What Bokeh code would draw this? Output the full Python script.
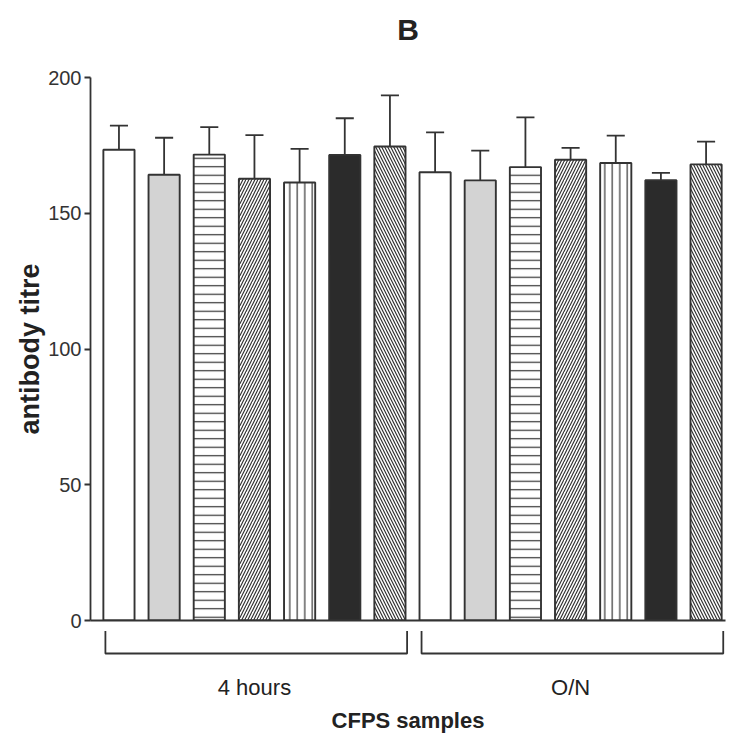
import numpy as np
from bokeh.plotting import figure
from bokeh.models import ColumnDataSource, Range1d, FixedTicker, LinearAxis
from bokeh.layouts import column
from bokeh.embed import file_html
from bokeh.resources import INLINE

# ---- data ----
groups = ["4 hours", "O/N"]
titre_4h = [173.4, 164.2, 171.6, 162.7, 161.3, 171.5, 174.6]
sem_4h = [8.9, 13.6, 10.1, 16.1, 12.4, 13.5, 18.8]
titre_on = [165.1, 162.1, 167.0, 169.7, 168.5, 162.2, 168.0]
sem_on = [14.7, 11.0, 18.3, 4.4, 10.1, 2.7, 8.4]
y_ticks = [0, 50, 100, 150, 200]
panel_title = "B"

# ---- styles per sample (same sequence in both groups) ----
fills = ["white", "#d3d3d3", "white", "white", "white", "#2b2b2b", "white"]
hatches = [" ", " ", "horizontal_line", "right_diagonal_line", "vertical_line", " ", "left_diagonal_line"]
hatch_scales = [12, 12, 8.5, 6, 7.5, 12, 6]

INK = "#333333"
SANS = "Liberation Sans"

n_per = len(titre_4h)
values = titre_4h + titre_on
sems = sem_4h + sem_on
x = np.arange(1, len(values) + 1, dtype=float)
upper = [v + s for v, s in zip(values, sems)]

src = ColumnDataSource(dict(
    x=x, top=values, upper=upper,
    fill=fills * len(groups), hatch=hatches * len(groups), hscale=hatch_scales * len(groups),
))

xr = Range1d(0.37, 14.43)

p1 = figure(width=737, height=630, x_range=xr, y_range=Range1d(0, 200),
            output_backend="svg", toolbar_location=None,
            min_border_left=90, min_border_right=12, min_border_top=77, min_border_bottom=10)

# panel letter, placed above the frame
top_axis = LinearAxis(ticker=FixedTicker(ticks=[]), axis_line_color=None,
                      major_tick_line_color=None, minor_tick_line_color=None,
                      major_tick_out=0, major_tick_in=0, major_label_standoff=0,
                      major_label_text_font_size="0px",
                      axis_label=panel_title, axis_label_text_font=SANS,
                      axis_label_text_font_size="30px", axis_label_text_font_style="bold",
                      axis_label_text_color="#222222", axis_label_standoff=32)
p1.add_layout(top_axis, "above")

# error bars (upper only)
p1.segment(x0="x", y0="top", x1="x", y1="upper", source=src, line_color=INK, line_width=1.8)
cap = 0.2
p1.segment(x0=x - cap, y0=upper, x1=x + cap, y1=upper, line_color=INK, line_width=1.8)

p1.vbar(x="x", top="top", bottom=0, width=0.69, source=src,
        fill_color="fill", line_color=INK, line_width=1.9,
        hatch_pattern="hatch", hatch_scale="hscale", hatch_color=INK, hatch_weight=1.2)

p1.xgrid.visible = False
p1.ygrid.visible = False
p1.outline_line_color = None

xa = p1.below[0]
xa.ticker = FixedTicker(ticks=[])
xa.major_tick_line_color = None
xa.minor_tick_line_color = None
xa.major_tick_out = 0
xa.major_tick_in = 0
xa.major_label_standoff = 0
xa.major_label_text_font_size = "0px"
xa.axis_line_color = INK
xa.axis_line_width = 1.8

ya = p1.yaxis[0]
ya.ticker = FixedTicker(ticks=y_ticks)
ya.minor_tick_line_color = None
ya.major_tick_in = 0
ya.major_tick_out = 6
ya.major_tick_line_color = INK
ya.major_tick_line_width = 1.8
ya.axis_line_color = INK
ya.axis_line_width = 1.8
ya.major_label_text_font = SANS
ya.major_label_text_font_size = "20px"
ya.major_label_text_color = INK
ya.major_label_standoff = 3
ya.axis_label = "antibody titre"
ya.axis_label_text_font = SANS
ya.axis_label_text_font_size = "27px"
ya.axis_label_text_font_style = "bold"
ya.axis_label_text_color = "#222222"
ya.axis_label_standoff = 0

# ---- lower strip: group brackets, group labels, axis title ----
p2 = figure(width=737, height=110, x_range=xr, y_range=Range1d(-30, 0),
            output_backend="svg", toolbar_location=None, y_axis_location=None,
            min_border_left=90, min_border_right=12, min_border_top=0, min_border_bottom=80)
p2.xgrid.visible = False
p2.ygrid.visible = False
p2.outline_line_color = None

b_top, b_bot = -0.5, -23
xs, ys, centers = [], [], []
for gi in range(len(groups)):
    first = x[gi * n_per]
    last = x[gi * n_per + n_per - 1]
    x0, x1 = first - 0.3, last + 0.38
    xs.append([x0, x0, x1, x1])
    ys.append([b_top, b_bot, b_bot, b_top])
    centers.append(float((first + last) / 2))
p2.multi_line(xs=xs, ys=ys, line_color=INK, line_width=1.8)

xb = p2.xaxis[0]
xb.ticker = FixedTicker(ticks=centers)
xb.major_label_overrides = {c: g for c, g in zip(centers, groups)}
xb.axis_line_color = None
xb.major_tick_line_color = None
xb.minor_tick_line_color = None
xb.major_tick_out = 0
xb.major_tick_in = 0
xb.major_label_standoff = 14
xb.major_label_text_font = SANS
xb.major_label_text_font_size = "22px"
xb.major_label_text_color = "#222222"
xb.axis_label = "CFPS samples"
xb.axis_label_text_font = SANS
xb.axis_label_text_font_size = "22px"
xb.axis_label_text_font_style = "bold"
xb.axis_label_text_color = "#222222"
xb.axis_label_standoff = 5

layout = column(p1, p2, spacing=0)
open("out.html", "w").write(file_html(layout, INLINE))
